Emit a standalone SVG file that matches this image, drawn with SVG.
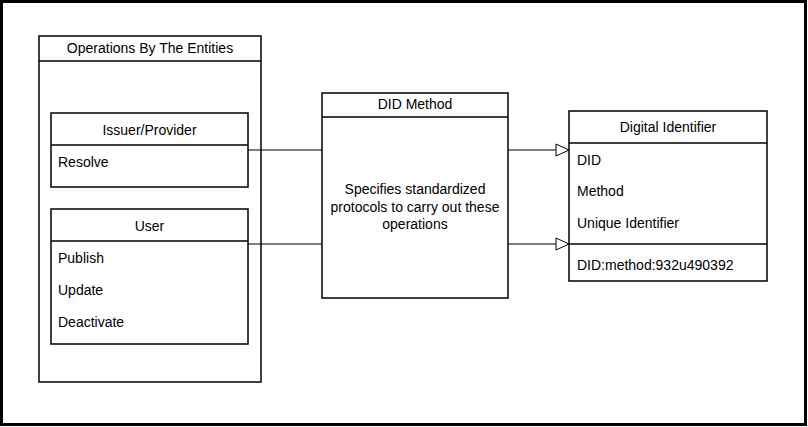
<svg xmlns="http://www.w3.org/2000/svg" width="808" height="427" viewBox="0 0 808 427">
<defs>
<style>
.box{fill:#fff;stroke:#000;stroke-width:1.5}
.sep{stroke:#000;stroke-width:1.5}
.t{font-family:"Liberation Sans",Arial,sans-serif;font-size:14px;fill:#000}
.c{text-anchor:middle}
.edge{stroke:#000;stroke-width:1;fill:none}
</style>
<marker id="tri" markerWidth="16" markerHeight="16" refX="14" refY="7" orient="auto" markerUnits="userSpaceOnUse">
<path d="M1,1 L14,7 L1,13 Z" fill="#fff" stroke="#000" stroke-width="1"/>
</marker>
</defs>
<rect x="1.5" y="1.5" width="804" height="423" fill="#fff" stroke="#000" stroke-width="3"/>
<g id="operations">
<rect class="box" x="39" y="36" width="222" height="346"/>
<line class="sep" x1="39" y1="61" x2="261" y2="61"/>
<text class="t c" x="150" y="53">Operations By The Entities</text>
</g>
<g id="issuer">
<rect class="box" x="51" y="113" width="197" height="74"/>
<line class="sep" x1="51" y1="145" x2="248" y2="145"/>
<text class="t c" x="149.5" y="135">Issuer/Provider</text>
<text class="t" x="58" y="167">Resolve</text>
</g>
<g id="user">
<rect class="box" x="51" y="209" width="197" height="135"/>
<line class="sep" x1="51" y1="241" x2="248" y2="241"/>
<text class="t c" x="149.5" y="231">User</text>
<text class="t" x="58" y="263">Publish</text>
<text class="t" x="58" y="295">Update</text>
<text class="t" x="58" y="327">Deactivate</text>
</g>
<g id="didmethod">
<rect class="box" x="322" y="93" width="186" height="205"/>
<line class="sep" x1="322" y1="117" x2="508" y2="117"/>
<text class="t c" x="415" y="109">DID Method</text>
<text class="t c" x="415" y="194">Specifies standardized</text>
<text class="t c" x="415" y="211.5">protocols to carry out these</text>
<text class="t c" x="415" y="229">operations</text>
</g>
<g id="digitalid">
<rect class="box" x="569" y="111" width="198" height="170"/>
<line class="sep" x1="569" y1="143" x2="767" y2="143"/>
<line class="sep" x1="569" y1="244" x2="767" y2="244"/>
<text class="t c" x="668" y="132">Digital Identifier</text>
<text class="t" x="577" y="164.5">DID</text>
<text class="t" x="577" y="196">Method</text>
<text class="t" x="577" y="228">Unique Identifier</text>
<text class="t" x="577" y="270">DID:method:932u490392</text>
</g>
<g id="connectors">
<line class="edge" x1="248" y1="150" x2="322" y2="150"/>
<line class="edge" x1="248" y1="244" x2="322" y2="244"/>
<line class="edge" x1="508" y1="150" x2="569" y2="150" marker-end="url(#tri)"/>
<line class="edge" x1="508" y1="244" x2="569" y2="244" marker-end="url(#tri)"/>
</g>
</svg>
